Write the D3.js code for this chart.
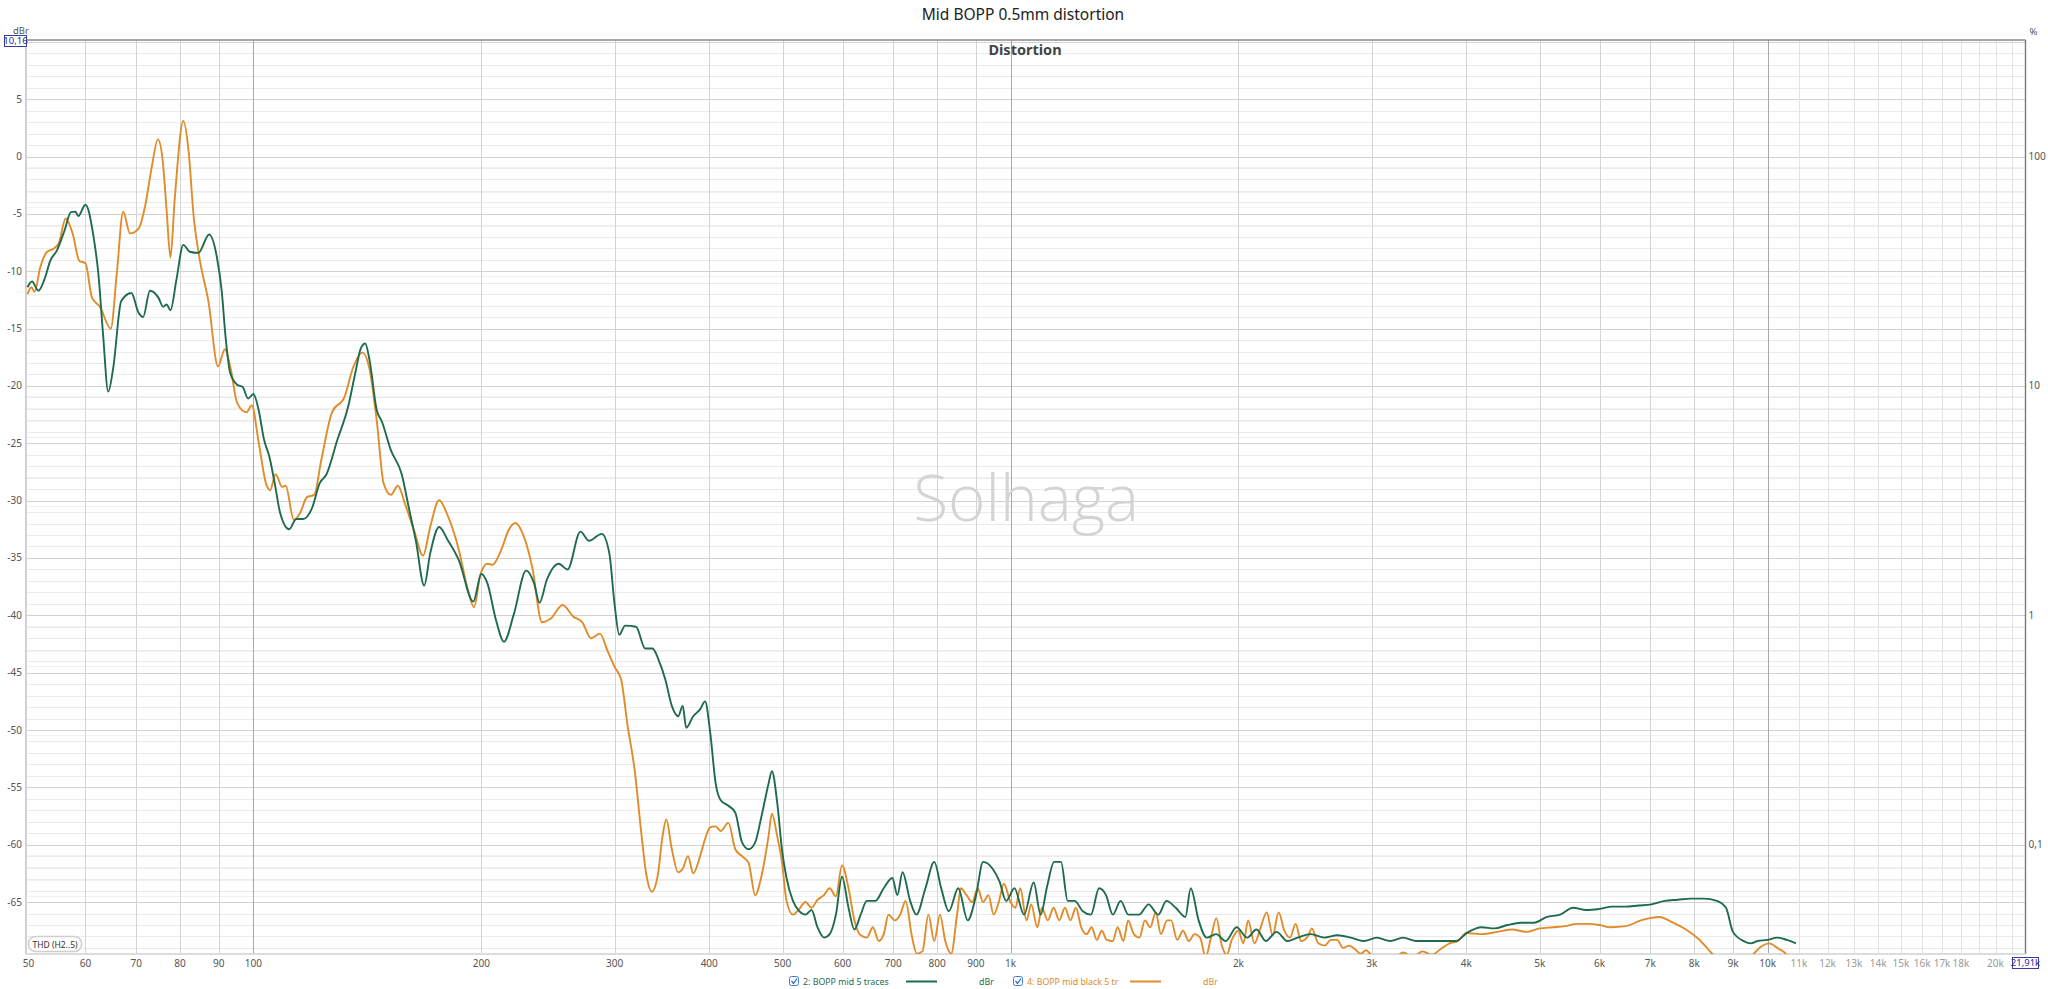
<!DOCTYPE html>
<html><head><meta charset="utf-8">
<script src="https://cdn.jsdelivr.net/npm/d3@7"></script>
<style>body{margin:0;background:#fff;overflow:hidden}svg{display:block}</style>
</head><body>
<svg id="chart" width="2048" height="989"></svg>
<script>
// ---- data ----
const titleText = "Mid BOPP 0.5mm distortion";
const subTitle = "Distortion";
const seriesNames = ["2: BOPP mid 5 traces", "4: BOPP mid black 5 tr"];
const seriesColors = ["#1e6b4e", "#e08c2a"];
const xTickLabels = [[50,"50"],[60,"60"],[70,"70"],[80,"80"],[90,"90"],[100,"100"],[200,"200"],[300,"300"],[400,"400"],[500,"500"],[600,"600"],[700,"700"],[800,"800"],[900,"900"],[1000,"1k"],[2000,"2k"],[3000,"3k"],[4000,"4k"],[5000,"5k"],[6000,"6k"],[7000,"7k"],[8000,"8k"],[9000,"9k"],[10000,"10k"],[11000,"11k"],[12000,"12k"],[13000,"13k"],[14000,"14k"],[15000,"15k"],[16000,"16k"],[17000,"17k"],[18000,"18k"],[20000,"20k"]];
const yTicks = [5,0,-5,-10,-15,-20,-25,-30,-35,-40,-45,-50,-55,-60,-65];
const pctTicks = [[100,"100"],[10,"10"],[1,"1"],[0.1,"0,1"]];
const greenSeries = [
[50.3,-11.4],[51,-10.9],[52,-11.7],[53.1,-10.5],[53.9,-9.1],[55,-8.2],[56.3,-6.45],[57.4,-4.85],[58.2,-4.8],[58.7,-5.2],[60,-4.2],[61.5,-7],[62.4,-10.2],[63.3,-15.5],[64.3,-20.5],[65.3,-18.4],[66.9,-12.6],[69,-11.9],[70.5,-13.6],[71.5,-14],[73,-11.7],[74.9,-12.3],[76,-13.1],[76.8,-12.9],[77.7,-13.4],[79.1,-10.8],[80.8,-7.7],[82.4,-8.3],[84.6,-8.4],[87.4,-6.8],[89.5,-8.8],[90.8,-11.7],[91.9,-15.8],[93.2,-18.9],[95.2,-19.9],[96.8,-20.1],[98.4,-21.1],[100,-20.7],[101.6,-22.1],[103.3,-24.7],[105,-26.2],[106.7,-28.5],[108.5,-31.1],[111.5,-32.5],[113.9,-31.6],[116.4,-31.6],[119.6,-30.6],[122.3,-28.5],[124.9,-27.7],[129.1,-24.7],[133.4,-21.8],[136.3,-18.9],[138.6,-16.75],[140.5,-16.3],[142.4,-17.8],[145.5,-22.1],[147.8,-23.1],[151.9,-25.6],[157,-27.7],[160.4,-30.6],[163.9,-33.5],[168.1,-37.4],[171.2,-34.6],[175.9,-32.3],[180.8,-33.5],[186.8,-35.2],[195.2,-38.8],[200,-36.4],[203.7,-37.2],[209.1,-40.4],[214.3,-42.3],[220.8,-39.9],[229.2,-36.1],[234.8,-37.2],[238.7,-38.9],[244.1,-36.9],[253.1,-35.5],[260,-36],[270.3,-32.7],[277.6,-33.5],[288.5,-32.9],[295.2,-34.6],[299.9,-39],[304.3,-41.7],[309.7,-40.9],[320.2,-41],[329.3,-42.9],[336.6,-42.9],
[343,-43.9],[350,-45.6],[357,-47.9],[364,-48.8],[369,-47.9],[373,-49.8],[381,-48.8],[389,-48.2],[395,-47.5],[401,-50.1],[408,-54.7],[414,-56.1],[424,-56.6],[433,-57.2],[442,-59.8],[451,-60.4],[460,-59.8],[469,-57.5],[479,-54.7],[484,-53.6],[492,-56.4],[499,-60.4],[506,-62.9],[516,-64.9],[526,-65.8],[536,-66.1],[546,-65.7],[556,-67.2],[567,-68.1],[577,-67.8],[588,-66.1],[599,-62.8],[611,-65.5],[622,-67.4],[634,-66.1],[646,-64.9],[663,-64.9],[680,-63.8],[698,-62.9],[709,-64.4],[720,-62.4],[737,-64.9],[751,-66.1],[772,-63.8],[793,-61.5],[810,-63.8],[829,-65.8],[853,-63.8],[878,-66.6],[900,-64.5],[920,-61.5],[947,-62.1],[967,-63.2],[987,-64.9],[1012,-63.8],[1042,-66.1],[1073,-63.3],[1096,-66.1],[1118,-63.6],[1142,-61.5],[1166,-61.5],[1190,-64.9],[1215,-64.9],[1246,-65.8],[1277,-66.1],[1309,-63.8],[1337,-64.4],[1365,-66.1],[1398,-64.9],[1431,-66.1],[1478,-66.1],[1522,-65.2],[1567,-66.1],[1607,-64.9],[1653,-65.5],[1702,-66.3],[1730,-63.8],[1772,-66.6],[1816,-68.1],[1869,-67.8],[1924,-68.4],[1989,-67.2],[2054,-68.1],[2113,-67.4],[2174,-68.4],[2246,-67.6],[2320,-68.4],[2395,-68.1],[2493,-67.8],[2597,-68.1],[2703,-67.9],[2814,-68.1],[2929,-68.4],[3048,-68.1],[3172,-68.4],[3301,-68.1],[3435,-68.4],[3573,-68.4],[3718,-68.4],[3869,-68.4],[4026,-67.6],[4189,-67.2],[4359,-67.3],[4536,-67],[4721,-66.8],[4912,-66.8],[5111,-66.3],[5318,-66.1],[5534,-65.5],[5759,-65.7],[5992,-65.6],[6235,-65.4],[6489,-65.4],[6752,-65.3],[7026,-65.2],[7311,-64.9],[7608,-64.8],[7916,-64.7],[8237,-64.7],[8571,-64.9],[8811,-65.5],[9000,-67.6],[9300,-68.4],[9500,-68.6],[9700,-68.4],[10000,-68.3],[10300,-68.1],[10600,-68.3],[10900,-68.6]
];
const orangeSeries = [
[50.3,-12],[50.9,-11.4],[51.4,-11.8],[52.3,-9.65],[53.4,-8.3],[54.4,-8.05],[55.3,-7.6],[56.5,-5.4],[57.7,-6.7],[58.9,-9.1],[60,-9.3],[61.2,-12.3],[62.7,-13.1],[64.8,-15],[66,-10.2],[67.3,-4.8],[68.7,-6.7],[70.5,-6.3],[71.9,-4.4],[73.4,-0.93],[74.8,1.5],[75.8,-0.05],[76.8,-4.7],[77.7,-8.8],[78.7,-3.8],[80.8,3.1],[82.1,0.5],[83.4,-5.3],[85,-9.1],[87.2,-12.6],[89.8,-18.3],[91.7,-16.8],[93.2,-18.3],[95.2,-21.5],[97.9,-22.3],[99.5,-21.7],[101.6,-24.9],[103.9,-28.5],[105.2,-29.1],[107,-27.7],[109.1,-28.8],[110.3,-28.7],[113.1,-31.7],[115.2,-31.1],[117.7,-29.7],[120.3,-29.5],[122.9,-26.5],[127,-22.3],[131.9,-20.97],[135.5,-18.35],[139.3,-17.1],[142.4,-18.6],[145.5,-23],[148.6,-28.5],[151.9,-29.5],[155.2,-28.7],[158.6,-30.3],[163,-32.6],[167.5,-34.8],[171.2,-32.3],[175.9,-29.97],[180.8,-31.4],[186.8,-34.3],[192,-37.8],[195.6,-39.3],[199.5,-36.4],[203.7,-35.5],[206.9,-35.6],[212.5,-34.3],[217.2,-32.6],[221.9,-31.95],[226.9,-32.9],[233.5,-35.8],[240.5,-40.6],[246.8,-40.3],[256.1,-39.1],[264.5,-40.1],[271.8,-40.6],[279.2,-42],[286.9,-41.6],[293.6,-43.1],
[300,-44.5],[306,-45.6],[312,-49.6],[319,-53.6],[325,-58.7],[330,-62.4],[336,-64.1],[342,-62.7],[347,-59.3],[351,-57.8],[357,-60.4],[364,-62.4],[369,-62.1],[375,-61],[381,-62.5],[389,-61],[395,-59.5],[401,-58.5],[408,-58.4],[414,-58.8],[424,-58.1],[433,-60.4],[442,-61],[451,-61.6],[460,-64.4],[469,-62.7],[479,-59.3],[484,-57.3],[492,-59.3],[499,-61.5],[506,-64.9],[516,-66.1],[526,-65.6],[536,-65],[546,-65.5],[556,-64.8],[567,-64.4],[577,-63.8],[588,-64.5],[599,-61.8],[611,-63.8],[622,-66.6],[634,-67.9],[646,-68.1],[658,-67.2],[670,-68.4],[680,-67.8],[690,-66.1],[703,-66.6],[715,-66.1],[727,-64.9],[740,-67.8],[752,-69.5],[765,-69.3],[779,-66.1],[793,-68.4],[807,-66.1],[820,-68.4],[835,-69.5],[850,-66.1],[860,-63.8],[875,-64.4],[890,-65],[905,-63.8],[920,-65],[935,-64.4],[950,-66.1],[965,-65],[980,-63.4],[1000,-65],[1015,-65.5],[1030,-63.8],[1050,-66.6],[1065,-65.2],[1085,-67.2],[1100,-65.5],[1120,-66.6],[1140,-65.5],[1160,-66.6],[1180,-65.5],[1200,-66.6],[1220,-65.5],[1240,-67.2],[1260,-67.8],[1280,-67.2],[1300,-68.3],[1320,-67.5],[1340,-68.3],[1365,-68.4],[1385,-67.2],[1410,-68.4],[1430,-66.6],[1455,-67.8],[1480,-68.1],[1505,-66.6],[1530,-67.2],[1555,-65.9],[1580,-67.8],[1610,-66.6],[1630,-66.6],[1660,-68.3],[1690,-67.5],[1720,-68.4],[1750,-67.8],[1780,-68.1],[1810,-69.8],[1840,-68.1],[1870,-66.4],[1900,-68.7],[1930,-69.6],[1960,-68.3],[2000,-67.5],[2030,-68.6],[2060,-66.6],[2100,-68.6],[2140,-67.2],[2180,-65.9],[2220,-67.9],[2260,-65.9],[2300,-67.5],[2340,-68.1],[2380,-66.9],[2420,-68.4],[2470,-68],[2500,-67.3],[2550,-68.6],[2600,-68.8],[2650,-68.3],[2700,-68.3],[2750,-69],[2800,-68.8],[2850,-69.1],[2900,-69.5],[2950,-69.2],[3000,-69.6],[3100,-69.7],[3200,-70],[3300,-69.4],[3400,-69.8],[3500,-69.3],[3600,-69.6],[3700,-69.1],[3800,-68.6],[3900,-68.4],[4000,-67.7],[4200,-67.8],[4400,-67.6],[4600,-67.4],[4800,-67.6],[5000,-67.3],[5200,-67.2],[5400,-67.1],[5600,-66.9],[5800,-66.9],[6000,-67],[6200,-67.2],[6500,-67.1],[6800,-66.6],[7000,-66.4],[7200,-66.3],[7500,-66.8],[7800,-67.4],[8100,-68.2],[8450,-69.5],[8800,-70.5],[9200,-71],[9560,-69.6],[9800,-68.9],[10050,-68.6],[10300,-69],[10600,-69.6],[10800,-70.5]
];

// ---- layout ----
const W = 2048, H = 989;
const svg = d3.select("#chart");
const x = d3.scaleLog().domain([50, 21910]).range([25.5, 2025.5]);
const y = d3.scaleLinear().domain([-69.53, 10.16]).range([954, 40]);
const x0 = x.range()[0], x1 = x.range()[1], yT = y.range()[1], yB = y.range()[0];
const font = "'Noto Sans', 'Open Sans', sans-serif";

svg.append("rect").attr("width", W).attr("height", H).attr("fill", "#fff");

const grid = svg.append("g");
const pctMinor = [];
[0.01, 0.1, 1, 10].forEach(d => { for (let k = 2; k <= 9; k++) pctMinor.push(d * k); });
grid.selectAll(".pg").data(pctMinor.map(p => 20 * Math.log10(p / 100)).filter(v => v > -69.5 && v < 10))
  .enter().append("line").attr("x1", x0).attr("x2", x1)
  .attr("y1", d => Math.round(y(d)) + 0.5).attr("y2", d => Math.round(y(d)) + 0.5)
  .attr("stroke", "#f1f1f1").attr("stroke-width", 1);
grid.selectAll(".mg").data(d3.range(-69, 11, 1).filter(v => v % 5 !== 0))
  .enter().append("line").attr("x1", x0).attr("x2", x1)
  .attr("y1", d => Math.round(y(d)) + 0.5).attr("y2", d => Math.round(y(d)) + 0.5)
  .attr("stroke", "#ebebeb").attr("stroke-width", 1);
grid.selectAll(".Mg").data(d3.range(-65, 11, 5))
  .enter().append("line").attr("x1", x0).attr("x2", x1)
  .attr("y1", d => Math.round(y(d)) + 0.5).attr("y2", d => Math.round(y(d)) + 0.5)
  .attr("stroke", "#d2d2d2").attr("stroke-width", 1);

const vFreqs = [];
for (let f = 50; f < 100; f += 10) vFreqs.push(f);
for (let f = 100; f < 1000; f += 100) vFreqs.push(f);
for (let f = 1000; f < 10000; f += 1000) vFreqs.push(f);
for (let f = 10000; f <= 21000; f += 1000) vFreqs.push(f);
grid.selectAll(".vg").data(vFreqs).enter().append("line")
  .attr("x1", d => Math.round(x(d)) + 0.5).attr("x2", d => Math.round(x(d)) + 0.5)
  .attr("y1", yT).attr("y2", yB)
  .attr("stroke", d => (d === 100 || d === 1000 || d === 10000) ? "#a8a8a8" : (d > 10000 ? "#e2e2e2" : "#d4d4d4"))
  .attr("stroke-width", 1);

svg.append("line").attr("x1", x0).attr("x2", x1).attr("y1", yT).attr("y2", yT).attr("stroke", "#8a8a8a").attr("stroke-width", 1.6);
svg.append("line").attr("x1", x1).attr("x2", x1).attr("y1", yT).attr("y2", yB).attr("stroke", "#7a7a7a").attr("stroke-width", 1.4);
svg.append("line").attr("x1", x0).attr("x2", x1).attr("y1", yB).attr("y2", yB).attr("stroke", "#dcdcdc").attr("stroke-width", 2);
svg.append("line").attr("x1", x0).attr("x2", x0).attr("y1", yT).attr("y2", yB).attr("stroke", "#cfcfcf").attr("stroke-width", 1);

// watermark
svg.append("text").attr("x", 1026).attr("y", 521).attr("text-anchor", "middle")
  .attr("font-family", "'Open Sans', 'Noto Sans', sans-serif").attr("font-size", 64).attr("font-weight", 300)
  .attr("fill", "#d4d4d4").text("Solhaga");

svg.append("clipPath").attr("id", "plotclip").append("rect")
  .attr("x", x0).attr("y", yT).attr("width", x1 - x0).attr("height", yB - yT);

const line = d3.line().x(d => x(d[0])).y(d => y(d[1])).curve(d3.curveMonotoneX);
const plot = svg.append("g").attr("clip-path", "url(#plotclip)");
[orangeSeries, greenSeries].forEach((s, i) => {
  plot.append("path").datum(s).attr("d", line).attr("fill", "none")
    .attr("stroke", i === 0 ? seriesColors[1] : seriesColors[0])
    .attr("stroke-width", 1.9).attr("stroke-linejoin", "round");
});

svg.selectAll(".yl").data(yTicks).enter().append("text")
  .attr("x", 22).attr("y", d => y(d) + 3.5).attr("text-anchor", "end")
  .attr("font-family", font).attr("font-size", 10).attr("fill", "#555")
  .text(d => d);
svg.selectAll(".pl").data(pctTicks).enter().append("text")
  .attr("x", x1 + 3).attr("y", d => y(20 * Math.log10(d[0] / 100)) + 3.5).attr("text-anchor", "start")
  .attr("font-family", font).attr("font-size", 10).attr("fill", "#555")
  .text(d => d[1]);
svg.append("text").attr("x", x1 + 4).attr("y", 35).attr("font-family", font).attr("font-size", 9.5).attr("fill", "#555").text("%");
svg.append("text").attr("x", 13).attr("y", 34).attr("font-family", font).attr("font-size", 9.5).attr("fill", "#555").text("dBr");
svg.selectAll(".xl").data(xTickLabels).enter().append("text")
  .attr("x", d => d[0] === 50 ? x(d[0]) + 3 : x(d[0])).attr("y", 967).attr("text-anchor", "middle")
  .attr("font-family", font).attr("font-size", 10)
  .attr("fill", d => d[0] > 10000 ? "#9a9a9a" : "#555")
  .text(d => d[1]);

function valueBox(cx, cy, w, h, txt) {
  const g = svg.append("g");
  g.append("rect").attr("x", cx).attr("y", cy).attr("width", w).attr("height", h)
    .attr("fill", "#fff").attr("stroke", "#3a3aa0").attr("stroke-width", 1);
  g.append("text").attr("x", cx + w / 2).attr("y", cy + h - 2.5).attr("text-anchor", "middle")
    .attr("font-family", font).attr("font-size", 9.5).attr("fill", "#2a2a9a").text(txt);
}
valueBox(4.5, 35.5, 22, 11, "10,16");
valueBox(2012.5, 957.5, 26, 11, "21,91k");

svg.append("rect").attr("x", 28.5).attr("y", 936.5).attr("width", 53).attr("height", 15).attr("rx", 7)
  .attr("fill", "#fff").attr("stroke", "#cfcfcf").attr("stroke-width", 1.5);
svg.append("text").attr("x", 55).attr("y", 947.5).attr("text-anchor", "middle")
  .attr("font-family", font).attr("font-size", 8.5).attr("fill", "#333").text("THD (H2..5)");

svg.append("text").attr("x", 1023).attr("y", 20).attr("text-anchor", "middle")
  .attr("font-family", font).attr("font-size", 15.5).attr("fill", "#222").text(titleText);
svg.append("text").attr("x", 1025).attr("y", 55).attr("text-anchor", "middle")
  .attr("font-family", font).attr("font-size", 14.5).attr("font-weight", "bold").attr("fill", "#444").text(subTitle);

const legendItems = [
  {cb: 794, tx: 803, l1: 906, l2: 937, unit: 979, name: seriesNames[0], color: seriesColors[0]},
  {cb: 1018, tx: 1027, l1: 1130, l2: 1161, unit: 1203, name: seriesNames[1], color: seriesColors[1]}
];
const lg = svg.append("g");
legendItems.forEach(it => {
  lg.append("rect").attr("x", it.cb - 4.5).attr("y", 976.5).attr("width", 9).attr("height", 9).attr("rx", 2)
    .attr("fill", "#fff").attr("stroke", "#3b7fd0").attr("stroke-width", 1);
  lg.append("path").attr("d", `M${it.cb - 2.5},981 L${it.cb - 0.5},983.5 L${it.cb + 3},978.5`)
    .attr("fill", "none").attr("stroke", "#2f6fc0").attr("stroke-width", 1.3);
  lg.append("text").attr("x", it.tx).attr("y", 984.5).attr("font-family", font).attr("font-size", 8.8)
    .attr("fill", it.color).text(it.name);
  lg.append("line").attr("x1", it.l1).attr("x2", it.l2).attr("y1", 981.5).attr("y2", 981.5)
    .attr("stroke", it.color).attr("stroke-width", 2);
  lg.append("text").attr("x", it.unit).attr("y", 984.5).attr("font-family", font).attr("font-size", 8.8)
    .attr("fill", it.color).text("dBr");
});
</script>
</body></html>
